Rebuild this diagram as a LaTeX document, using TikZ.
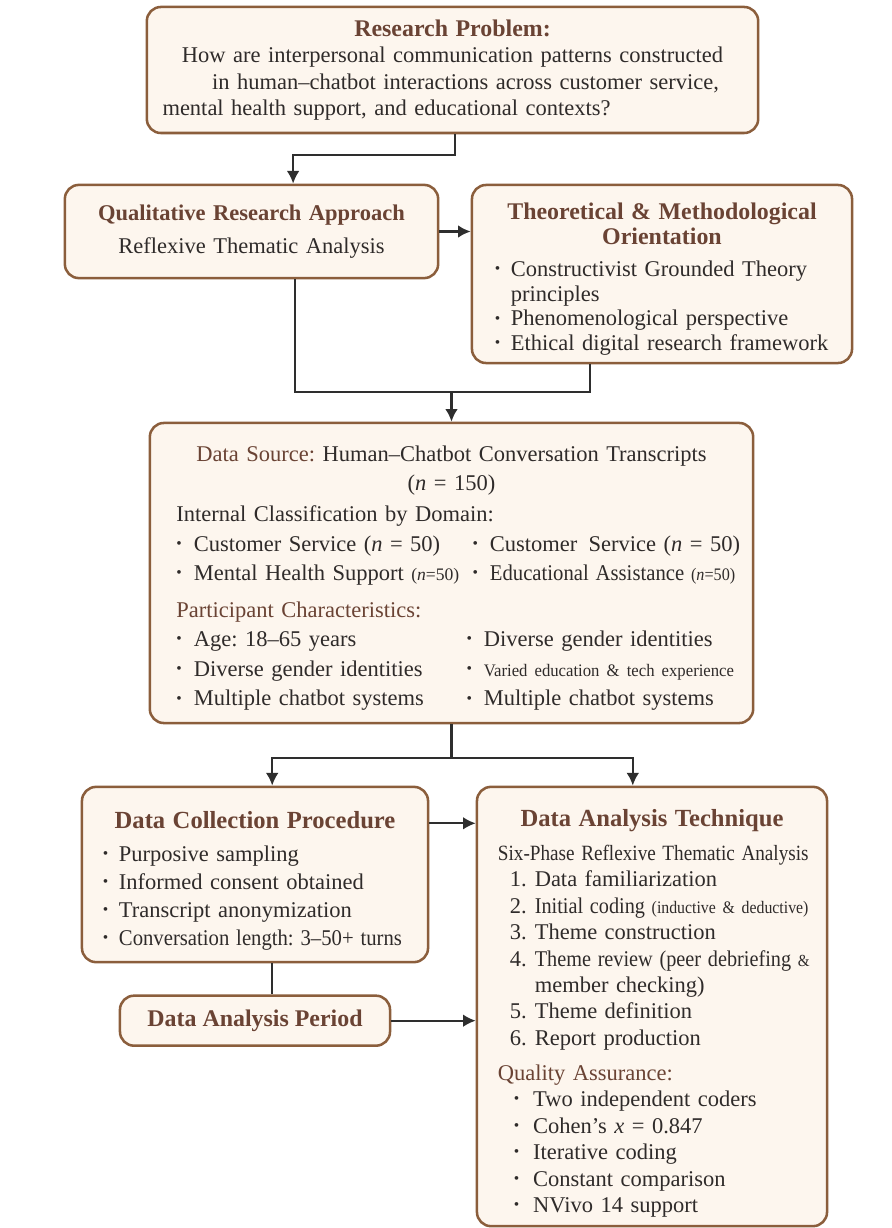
\documentclass[tikz,border=0pt]{standalone}
\usepackage{fontspec}
\setmainfont{Liberation Serif}
\usetikzlibrary{positioning,arrows.meta}
\frenchspacing

\definecolor{boxline}{HTML}{8B5E3C}
\definecolor{boxfill}{HTML}{FDF6EE}
\definecolor{headbrown}{HTML}{6A4334}
\definecolor{bodytext}{HTML}{2F2B2A}
\definecolor{wire}{HTML}{2E2E2E}

\newcommand{\bdot}{\raisebox{0.12em}{\fontsize{11}{11}\selectfont •}}
\newcommand{\bull}[1]{\par\leftskip=0pt\noindent\makebox[0.4cm][l]{\bdot}\mbox{#1}}
\newcommand{\cont}[2]{\par\noindent\hspace*{#1}\mbox{#2}}
\newcommand{\qitem}[1]{\par\leftskip=0pt\noindent\hspace*{0.4cm}\makebox[0.48cm][l]{\bdot}\mbox{#1}}
\newcommand{\phase}[2]{\par\leftskip=0pt\noindent\hspace*{0.3cm}\makebox[0.62cm][l]{#1}\mbox{#2}}
\newcommand{\dualrow}[3]{\par\leftskip=0pt\noindent\makebox[#1][l]{\bdot\hspace{0.3cm}#2}\mbox{\bdot\hspace{0.3cm}#3}}
\newcommand{\smallpar}[1]{{\fontsize{12.5}{12.5}\selectfont #1}}
\newcommand{\narrow}[2]{\scalebox{#1}[1]{#2}}
% pulls the text of a box down by half of #1
\newcommand{\lowerby}[1]{\par\vspace{-#1}\hrule height 0pt}

\begin{document}
\begin{tikzpicture}[x=0.025cm, y=-0.025cm,
    box/.style={rectangle, rounded corners=10pt, draw=boxline, line width=1.8pt, fill=boxfill,
      text=bodytext, inner sep=0pt, font=\fontsize{16}{19}\selectfont},
    link/.style={draw=wire, line width=1.5pt, -{Latex[length=9pt, width=9pt]}},
    joint/.style={draw=wire, line width=1.5pt}]
    \useasboundingbox (0,0) rectangle (892,1228);

    \node[box, minimum width=15.28cm, minimum height=3.15cm, text width=15cm, align=center,
      font=\fontsize{16}{18.8}\selectfont] (problem) at (452.5,70) {%
      {\color{headbrown}\bfseries\fontsize{17}{20}\selectfont Research Problem:}\\
      How are interpersonal communication patterns constructed\\
      \hspace*{0.65cm}in human–chatbot interactions across customer service,\\
      mental health support, and educational contexts?\hspace*{3.3cm}\mbox{}};

    \node[box, minimum width=9.33cm, minimum height=2.33cm, text width=9cm, align=center] (approach) at (251.5,231.5) {%
      {\color{headbrown}\bfseries Qualitative Research Approach}\\[5pt]
      Reflexive Thematic Analysis};

    \node[box, minimum width=9.5cm, minimum height=4.45cm, text width=8.35cm,
      font=\fontsize{16}{17.6}\selectfont] (orient) at (662,274) {%
      {\centering\color{headbrown}\bfseries\fontsize{17}{18}\selectfont Theoretical \& Methodological\\ Orientation\par}
      \vspace{5pt}
      \bull{Constructivist Grounded Theory}
      \cont{0.4cm}{principles}
      \bull{Phenomenological perspective}
      \bull{Ethical digital research framework}
      \lowerby{0.25cm}};

    \node[box, minimum width=15.08cm, minimum height=7.5cm, text width=13.75cm,
      font=\fontsize{16}{21}\selectfont] (source) at (451.5,573) {%
      {\centering{\color{headbrown}Data Source:} Human–Chatbot Conversation Transcripts\\
      (\textit{n} = 150)\par}
      \vspace{1pt}
      \noindent Internal Classification by Domain:
      \dualrow{7.4cm}{Customer Service (\textit{n} = 50)}{Customer\, Service (\textit{n} = 50)}
      \dualrow{7.4cm}{Mental Health Support \smallpar{(\textit{n}=50)}}{\narrow{0.92}{Educational Assistance \smallpar{(\textit{n}=50)}}}
      \par\vspace{5pt}
      \noindent{\color{headbrown}Participant Characteristics:}
      \dualrow{7.25cm}{Age: 18–65 years}{Diverse gender identities}
      \dualrow{7.25cm}{Diverse gender identities}{\narrow{0.95}{\smallpar{Varied education \& tech experience}}}
      \dualrow{7.25cm}{Multiple chatbot systems}{Multiple chatbot systems}
      \lowerby{0.25cm}};

    \node[box, minimum width=8.65cm, minimum height=4.38cm, text width=7.6cm,
      font=\fontsize{16}{19.8}\selectfont] (collect) at (255,874.5) {%
      {\centering\color{headbrown}\bfseries\fontsize{17.5}{20}\selectfont Data Collection Procedure\par}
      \vspace{4pt}
      \bull{Purposive sampling}
      \bull{Informed consent obtained}
      \bull{Transcript anonymization}
      \bull{\narrow{0.92}{Conversation length: 3–50+ turns}}
      \lowerby{0.3cm}};

    \node[box, minimum width=6.75cm, minimum height=1.25cm, align=center,
      font=\fontsize{17}{20}\selectfont] (period) [below=0.775cm of collect] {%
      {\color{headbrown}\bfseries Data Analysis Period}};

    \node[box, minimum width=8.75cm, minimum height=10.98cm, text width=7.7cm,
      font=\fontsize{16}{18.8}\selectfont] (technique) at (652,1006.5) {%
      {\centering\color{headbrown}\bfseries\fontsize{17.5}{20}\selectfont Data Analysis Technique\par}
      \vspace{5pt}
      {\centering\narrow{0.88}{\fontsize{15.5}{19}\selectfont Six-Phase Reflexive Thematic Analysis}\par}
      \phase{1.}{Data familiarization}
      \phase{2.}{\narrow{0.9}{Initial coding {\fontsize{12.5}{12.5}\selectfont(inductive \& deductive)}}}
      \phase{3.}{Theme construction}
      \phase{4.}{\narrow{0.9}{Theme review (peer debriefing {\fontsize{12}{12}\selectfont\&}}}
      \cont{0.92cm}{member checking)}
      \phase{5.}{Theme definition}
      \phase{6.}{Report production}
      \par\vspace{6pt}
      \noindent{\color{headbrown}Quality Assurance:}
      \qitem{Two independent coders}
      \qitem{Cohen's \textit{x} = 0.847}
      \qitem{Iterative coding}
      \qitem{Constant comparison}
      \qitem{NVivo 14 support}
      \lowerby{0.35cm}};

    % connectors
    \coordinate (merge) at (451.5,392);
    \coordinate (split) at (451.5,758);
    \draw[link] (problem.south -| 455,0) -- ++(0,21) -| ([xshift=1.04cm]approach.north);
    \draw[link] (approach.east) -- (approach.east -| orient.west);
    \draw[joint] ([xshift=1.09cm]approach.south) |- (merge) -| ([xshift=-1.8cm]orient.south);
    \draw[link] (merge) -- (source.north);
    \draw[joint] (source.south) -- (split);
    \draw[link] (split) -| ([xshift=0.43cm]collect.north);
    \draw[link] (split) -| ([xshift=-0.48cm]technique.north);
    \draw[link] ([yshift=1.28cm]collect.east) -- ([yshift=1.28cm]collect.east -| technique.west);
    \draw[joint] ([xshift=0.43cm]collect.south) -- ([xshift=0.43cm]period.north);
    \draw[link] (period.east) -- (period.east -| technique.west);
\end{tikzpicture}
\end{document}
